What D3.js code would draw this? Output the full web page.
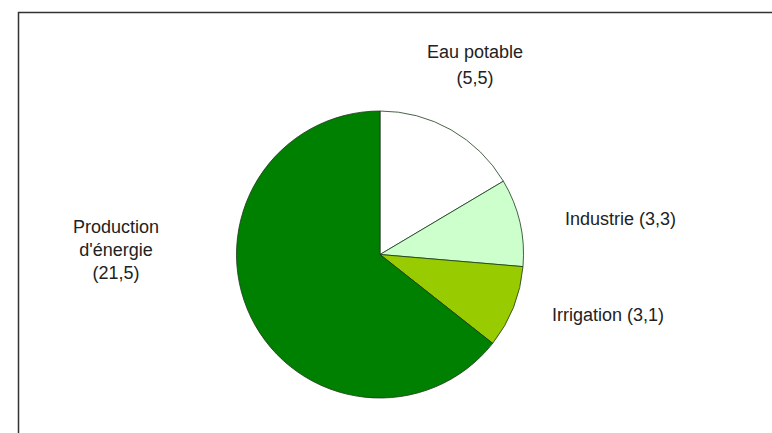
<!DOCTYPE html>
<html>
<head>
<meta charset="utf-8">
<script src="https://cdn.jsdelivr.net/npm/d3@7"></script>
<style>
  body { margin: 0; background: #fff; }
  svg text { font-family: "Liberation Sans", Arial, sans-serif; font-size: 18px; fill: #222; }
</style>
</head>
<body>
<svg id="chart" width="772" height="433"></svg>
<script>
// Usages de l'eau
const categories = ["Eau potable", "Industrie", "Irrigation", "Production d'énergie"];
const values = [5.5, 3.3, 3.1, 21.5];
const colors = ["#ffffff", "#ccffcc", "#99cc00", "#008000"];
const labelLines = [
  ["Eau potable", "(5,5)"],
  ["Industrie (3,3)"],
  ["Irrigation (3,1)"],
  ["Production", "d'énergie", "(21,5)"]
];
// label anchor points (x, first baseline), alignment, line spacing
const labelPos = [
  { x: 475, y: 58, anchor: "middle", lh: 26 },
  { x: 565, y: 225, anchor: "start", lh: 0 },
  { x: 552, y: 321, anchor: "start", lh: 0 },
  { x: 116, y: 233, anchor: "middle", lh: 23 }
];

(function () {
  const CX = 380, CY = 254.5, R = 143.5;

  const svg = d3.select("#chart");

  // frame, cut by the right and bottom edges
  svg.append("rect")
    .attr("x", 18.5).attr("y", 12.5)
    .attr("width", 800).attr("height", 500)
    .attr("fill", "none")
    .attr("stroke", "#333")
    .attr("stroke-width", 1.5);

  const pie = d3.pie().sort(null).value((d) => d);
  const arc = d3.arc().innerRadius(0).outerRadius(R);

  const g = svg.append("g").attr("transform", `translate(${CX},${CY})`);
  g.selectAll("path")
    .data(pie(values))
    .enter()
    .append("path")
    .attr("d", arc)
    .attr("fill", (d, i) => colors[i])
    .attr("stroke", "#1a3a1a")
    .attr("stroke-width", 0.8);

  const labels = svg.append("g");
  labelLines.forEach((lines, i) => {
    const p = labelPos[i];
    const t = labels.append("text")
      .attr("text-anchor", p.anchor);
    lines.forEach((line, j) => {
      t.append("tspan")
        .attr("x", p.x)
        .attr("y", p.y + j * p.lh)
        .text(line);
    });
  });
})();
</script>
</body>
</html>
